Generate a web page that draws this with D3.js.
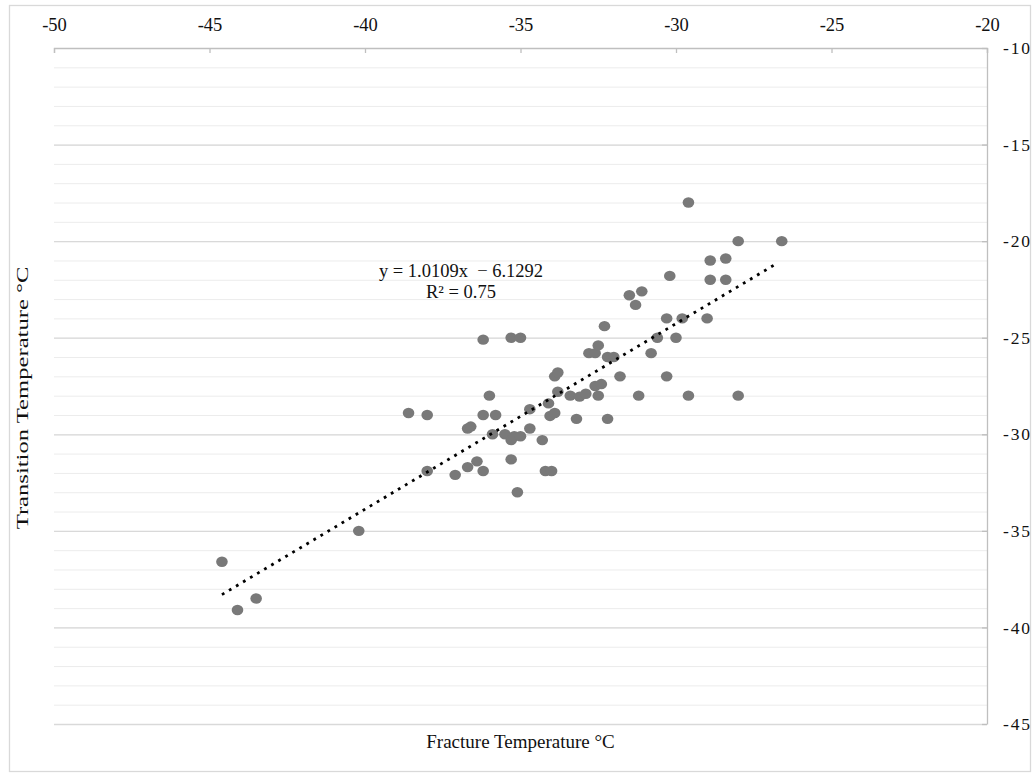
<!DOCTYPE html>
<html>
<head>
<meta charset="utf-8">
<script src="https://cdn.jsdelivr.net/npm/d3@7"></script>
<style>
  body { margin: 0; background: #fff; }
  svg { display: block; font-family: "Liberation Serif", "Times New Roman", serif; }
  .grid-minor line { stroke: #ececec; stroke-width: 1; }
  .grid-major line { stroke: #d9d9d9; stroke-width: 1.3; }
  .axis path, .axis line { stroke: #bfbfbf; stroke-width: 1.3; }
</style>
</head>
<body>
<svg id="chart" width="1033" height="774"></svg>
<script>
// valores
const fractureTemp = [
  -44.6, -44.1, -43.5, -40.2, -38.6, -38.0, -38.0, -37.1, -36.7, -36.6,
  -36.7, -36.4, -36.2, -36.2, -36.2, -36.0, -35.9, -35.8, -35.5, -35.3,
  -35.2, -35.3, -35.3, -35.0, -35.0, -35.1, -34.7, -34.7, -34.3, -34.2,
  -34.0, -34.1, -34.05, -33.9, -33.9, -33.8, -33.8, -33.4, -33.2, -33.1,
  -32.9, -32.8, -32.6, -32.6, -32.5, -32.5, -32.4, -32.3, -32.2, -32.0,
  -32.2, -31.8, -31.5, -31.1, -31.3, -31.2, -30.8, -30.6, -30.3, -30.3,
  -30.2, -30.0, -29.8, -29.6, -29.6, -29.0, -28.9, -28.9, -28.4, -28.4,
  -28.0, -28.0, -26.6
];
const transitionTemp = [
  -36.6, -39.1, -38.5, -35.0, -28.9, -29.0, -31.9, -32.1, -29.7, -29.6,
  -31.7, -31.4, -31.9, -29.0, -25.1, -28.0, -30.0, -29.0, -30.0, -30.3,
  -30.1, -31.3, -25.0, -25.0, -30.1, -33.0, -28.7, -29.7, -30.3, -31.9,
  -31.9, -28.4, -29.05, -28.9, -27.0, -26.8, -27.8, -28.0, -29.2, -28.05,
  -27.9, -25.8, -25.8, -27.5, -28.0, -25.4, -27.4, -24.4, -26.0, -26.0,
  -29.2, -27.0, -22.8, -22.6, -23.3, -28.0, -25.8, -25.0, -24.0, -27.0,
  -21.8, -25.0, -24.0, -18.0, -28.0, -24.0, -21.0, -22.0, -20.9, -22.0,
  -20.0, -28.0, -20.0
];
const xTicks = [-50, -45, -40, -35, -30, -25, -20];
const yTicks = [-10, -15, -20, -25, -30, -35, -40, -45];
const trendSlope = 0.961;
const trendIntercept = 4.56;
const equationText = 'y = 1.0109x  \u2212 6.1292';
const r2Text = 'R\u00b2 = 0.75';

const serif = '"Liberation Serif", "Times New Roman", serif';
const svg = d3.select('#chart');
const margin = { top: 48, right: 46, bottom: 50, left: 54 };
const W = 1033, H = 774;
const width = W - margin.left - margin.right;
const height = H - margin.top - margin.bottom;

// borde exterior del area del grafico
svg.append('rect')
  .attr('x', 9.5).attr('y', 5.5)
  .attr('width', 1021).attr('height', 766)
  .attr('fill', 'none').attr('stroke', '#d9d9d9').attr('stroke-width', 1.3);

const g = svg.append('g').attr('transform', 'translate(' + margin.left + ',' + margin.top + ')');

const x = d3.scaleLinear().domain([-50, -20]).range([0, width]);
const y = d3.scaleLinear().domain([-10, -45]).range([0, height]);

// lineas de division menores y mayores
g.append('g').attr('class', 'grid-minor')
  .call(d3.axisLeft(y).tickValues(d3.range(-11, -45, -1)).tickSize(-width).tickFormat(''))
  .call(s => s.select('.domain').remove());

g.append('g').attr('class', 'grid-major')
  .call(d3.axisLeft(y).tickValues(yTicks.slice(1)).tickSize(-width).tickFormat(''))
  .call(s => s.select('.domain').remove());

// ejes: X arriba, Y a la derecha
const axisX = d3.axisTop(x).tickValues(xTicks).tickSizeInner(-5).tickSizeOuter(-5).tickPadding(17)
  .tickFormat(d => '-' + Math.abs(d));
g.append('g').attr('class', 'axis axis-x').call(axisX)
  .selectAll('text')
  .style('font-family', serif).style('font-size', '18.5px').attr('fill', '#111');

const axisY = d3.axisRight(y).tickValues(yTicks).tickSizeInner(-5).tickSizeOuter(0).tickPadding(16)
  .tickFormat(d => '-' + Math.abs(d));
g.append('g').attr('class', 'axis axis-y')
  .attr('transform', 'translate(' + width + ',0)')
  .call(axisY)
  .selectAll('text')
  .style('font-family', serif).style('font-size', '17.5px').style('letter-spacing', '1.8px').attr('fill', '#111');

const xr = d3.extent(fractureTemp);

// puntos
g.append('g').selectAll('ellipse')
  .data(fractureTemp.map((d, i) => [d, transitionTemp[i]]))
  .join('ellipse')
  .attr('cx', d => x(d[0]))
  .attr('cy', d => y(d[1]))
  .attr('rx', 5.8).attr('ry', 5.2)
  .attr('fill', '#797979');

// linea de tendencia
g.append('line')
  .attr('x1', x(xr[0])).attr('y1', y(trendSlope * xr[0] + trendIntercept))
  .attr('x2', x(xr[1] - 0.2)).attr('y2', y(trendSlope * (xr[1] - 0.2) + trendIntercept))
  .attr('stroke', '#000').attr('stroke-width', 2.8)
  .attr('stroke-dasharray', '2.8 5.4');

// ecuacion
svg.append('text')
  .attr('x', 461).attr('y', 277)
  .attr('text-anchor', 'middle').attr('font-size', 18.5).attr('fill', '#111')
  .style('white-space', 'pre')
  .text(equationText);
svg.append('text')
  .attr('x', 461).attr('y', 298)
  .attr('text-anchor', 'middle').attr('font-size', 18.5).attr('fill', '#111')
  .text(r2Text);

// titulos de ejes
svg.append('text')
  .attr('transform', 'translate(28,' + (margin.top + height / 2 + 12) + ') rotate(-90) scale(1.45,1)')
  .attr('text-anchor', 'middle').attr('font-size', 17).attr('fill', '#111')
  .text('Transition Temperature \u00b0C');
svg.append('text')
  .attr('x', margin.left + width / 2).attr('y', 748)
  .attr('text-anchor', 'middle').attr('font-size', 19).attr('fill', '#111')
  .text('Fracture Temperature \u00b0C');
</script>
</body>
</html>
